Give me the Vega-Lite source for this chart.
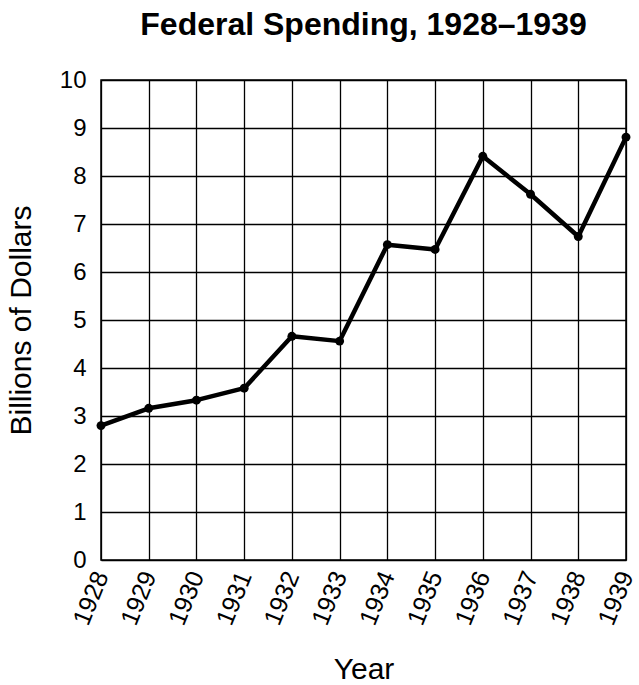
{
  "$schema": "https://vega.github.io/schema/vega-lite/v6.json",
  "autosize": {"type": "none"},
  "padding": {"left": 101, "top": 80, "right": 13, "bottom": 125},
  "width": 525,
  "height": 480,
  "background": "white",
  "config": {
    "font": "Liberation Sans",
    "view": {"stroke": "black", "strokeWidth": 1.5},
    "axis": {
      "grid": true,
      "gridColor": "black",
      "gridOpacity": 1,
      "gridWidth": 1.3,
      "domain": false,
      "ticks": false,
      "labelColor": "black",
      "titleColor": "black",
      "labelFont": "Liberation Sans",
      "titleFont": "Liberation Sans",
      "titleFontWeight": "normal"
    }
  },
  "title": {
    "text": "Federal Spending, 1928–1939",
    "font": "Liberation Sans",
    "fontSize": 32,
    "fontWeight": "bold",
    "color": "black",
    "anchor": "middle",
    "frame": "group",
    "offset": 26
  },
  "data": {
    "values": [
      {"year": 1928, "billions": 2.8},
      {"year": 1929, "billions": 3.16},
      {"year": 1930, "billions": 3.33},
      {"year": 1931, "billions": 3.58},
      {"year": 1932, "billions": 4.66},
      {"year": 1933, "billions": 4.56},
      {"year": 1934, "billions": 6.57},
      {"year": 1935, "billions": 6.47},
      {"year": 1936, "billions": 8.41},
      {"year": 1937, "billions": 7.62},
      {"year": 1938, "billions": 6.74},
      {"year": 1939, "billions": 8.81}
    ]
  },
  "encoding": {
    "x": {
      "field": "year",
      "type": "quantitative",
      "scale": {"domain": [1928, 1939], "nice": false, "zero": false},
      "axis": {
        "title": "Year",
        "values": [1928, 1929, 1930, 1931, 1932, 1933, 1934, 1935, 1936, 1937, 1938, 1939],
        "format": "d",
        "labelAngle": -68,
        "labelAlign": "right",
        "labelBaseline": "middle",
        "labelFontSize": 25,
        "labelPadding": 12,
        "labelBound": false,
        "labelFlush": false,
        "labelOverlap": false,
        "titleFontSize": 30,
        "titlePadding": 26
      }
    },
    "y": {
      "field": "billions",
      "type": "quantitative",
      "scale": {"domain": [0, 10], "nice": false},
      "axis": {
        "title": "Billions of Dollars",
        "values": [0, 1, 2, 3, 4, 5, 6, 7, 8, 9, 10],
        "labelFontSize": 24,
        "labelPadding": 15,
        "labelFlush": false,
        "labelOverlap": false,
        "titleFontSize": 30,
        "titlePadding": 23
      }
    }
  },
  "layer": [
    {"mark": {"type": "line", "color": "black", "strokeWidth": 4.5, "strokeJoin": "round"}},
    {"mark": {"type": "point", "filled": true, "color": "black", "opacity": 1, "size": 80}}
  ]
}
